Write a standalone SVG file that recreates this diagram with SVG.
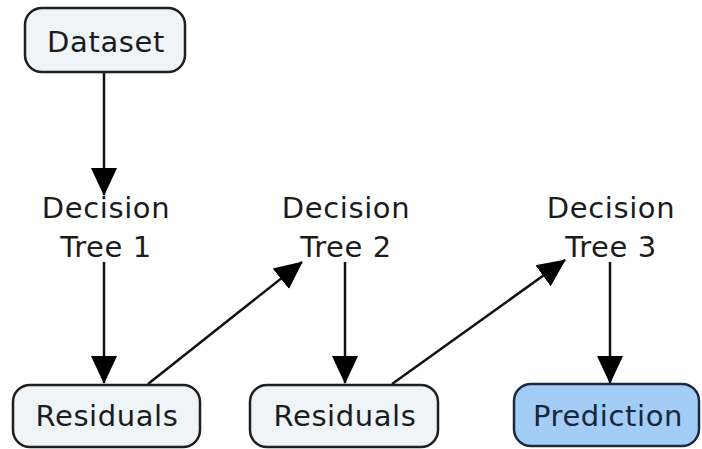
<svg xmlns="http://www.w3.org/2000/svg" width="702" height="449" viewBox="0 0 702 449">
  <defs>
    <style>
      .box { fill: #eef4f7; stroke: #1f1f1f; stroke-width: 2.5; }
      .box-out { fill: #a3cdf7; stroke: #1b2a3e; stroke-width: 2.5; }
      .lbl { font-family: "DejaVu Sans", Verdana, sans-serif; font-size: 29px; letter-spacing: 0.6px; fill: #1c1c1c; text-anchor: middle; }
      .lbl-out { fill: #17263a; }
      .edge { stroke: #111; stroke-width: 2.5; fill: none; marker-end: url(#head); }
    </style>
    <marker id="head" viewBox="0 0 28 28" refX="27" refY="14" markerWidth="28" markerHeight="28" markerUnits="userSpaceOnUse" orient="auto">
      <path d="M0,1 L28,14 L0,27 z" fill="#000"/>
    </marker>
  </defs>
  <rect width="702" height="449" fill="#fff"/>

  <g id="connectors">
    <line class="edge" x1="104" y1="72" x2="104" y2="195"/>
    <line class="edge" x1="104" y1="262" x2="104" y2="383"/>
    <line class="edge" x1="148" y1="384" x2="302" y2="262"/>
    <line class="edge" x1="345" y1="262" x2="345" y2="383"/>
    <line class="edge" x1="392" y1="384" x2="565" y2="260"/>
    <line class="edge" x1="610" y1="262" x2="610" y2="383"/>
  </g>

  <g id="dataset">
    <rect class="box" x="25" y="8" width="160" height="64" rx="17"/>
    <text class="lbl" x="106" y="52">Dataset</text>
  </g>

  <g id="tree1">
    <text class="lbl" x="106" y="218">Decision</text>
    <text class="lbl" x="106" y="257">Tree 1</text>
  </g>

  <g id="tree2">
    <text class="lbl" x="346" y="218">Decision</text>
    <text class="lbl" x="346" y="257">Tree 2</text>
  </g>

  <g id="tree3">
    <text class="lbl" x="611" y="218">Decision</text>
    <text class="lbl" x="611" y="257">Tree 3</text>
  </g>

  <g id="residuals1">
    <rect class="box" x="13" y="385" width="187" height="62" rx="17"/>
    <text class="lbl" x="107" y="426">Residuals</text>
  </g>

  <g id="residuals2">
    <rect class="box" x="250" y="385" width="188" height="62" rx="17"/>
    <text class="lbl" x="345" y="426">Residuals</text>
  </g>

  <g id="prediction">
    <rect class="box-out" x="514" y="384" width="185" height="62" rx="17"/>
    <text class="lbl lbl-out" x="608" y="426">Prediction</text>
  </g>
</svg>
